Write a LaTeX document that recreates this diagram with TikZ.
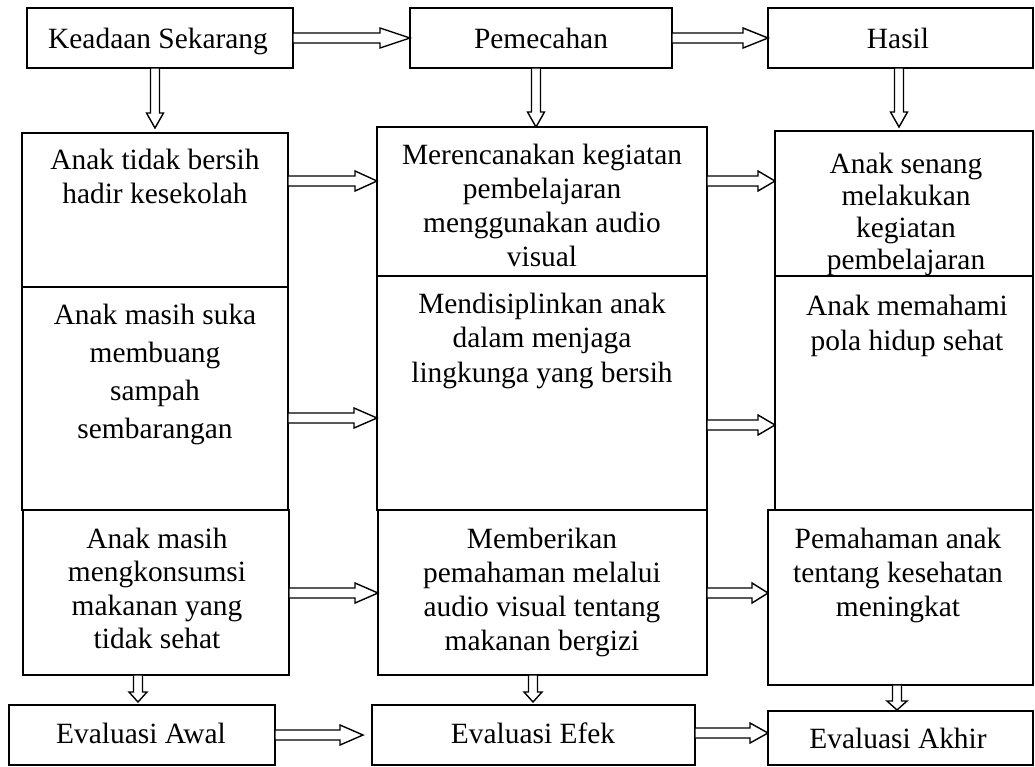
\documentclass[tikz,border=0pt]{standalone}
\usepackage{fontspec}
\setmainfont{Liberation Serif}
\usetikzlibrary{calc}
\newcommand{\lns}[2]{\vtop{\baselineskip=#1pt\lineskiplimit=-50pt\halign{\hfil##\hfil\cr#2\crcr}}}
% horizontal hollow arrow: start, end, head length
\newcommand{\myrarr}[3]{\draw[arr] let \p1=(#1), \p2=(#2) in
  (\x1,\y1+5pt) -- (\x2-#3pt,\y1+5pt) -- (\x2-#3pt,\y1+10pt) -- (\x2,\y1)
  -- (\x2-#3pt,\y1-10pt) -- (\x2-#3pt,\y1-5pt) -- (\x1,\y1-5pt) -- cycle;}
% vertical hollow arrow: start, end, head length, head half width
\newcommand{\mydarr}[4]{\draw[arr] let \p1=(#1), \p2=(#2) in
  (\x1-4.5pt,\y1) -- (\x1-4.5pt,\y2+#3pt) -- (\x1-#4pt,\y2+#3pt) -- (\x1,\y2)
  -- (\x1+#4pt,\y2+#3pt) -- (\x1+4.5pt,\y2+#3pt) -- (\x1+4.5pt,\y1) -- cycle;}
\begin{document}
\begin{tikzpicture}[x=1pt,y=-1pt,
  box/.style={draw,line width=1.6pt,inner sep=0pt,outer sep=0pt},
  txt/.style={inner sep=0pt,anchor=base,font=\fontsize{29.4}{34}\selectfont},
  arr/.style={draw,line width=1.4pt,fill=white,line join=miter}]
\useasboundingbox (0,0) rectangle (1035,766);
% boxes
\node[box,minimum width=266,minimum height=60] (ks) at (160,38) {};
\node[box,minimum width=262,minimum height=60] (pm) at (541,38) {};
\node[box,minimum width=265,minimum height=60] (hs) at (900.5,38) {};
\node[box,minimum width=266,minimum height=154] (L1) at (155,210) {};
\node[box,minimum width=266,minimum height=223] (L2) at (155,398.5) {};
\node[box,minimum width=266,minimum height=165] (L3) at (156,592.5) {};
\node[box,minimum width=266,minimum height=60] (ea) at (142,735) {};
\node[box,minimum width=330,minimum height=149] (M1) at (542,201.5) {};
\node[box,minimum width=330,minimum height=234] (M2) at (542,393) {};
\node[box,minimum width=329,minimum height=165] (M3) at (542.5,592.5) {};
\node[box,minimum width=323,minimum height=60] (ee) at (533.5,735) {};
\node[box,minimum width=258,minimum height=145] (R1) at (904,203.5) {};
\node[box,minimum width=258,minimum height=234] (R2) at (904,393) {};
\node[box,minimum width=265,minimum height=175] (R3) at (900.5,597.5) {};
\node[box,minimum width=265,minimum height=54] (ak) at (900.5,738) {};
% texts
\node[txt] (kst) at (158,48) {Keadaan Sekarang};
\node[txt] (pmt) at (541,48) {Pemecahan};
\node[txt] (hst) at (898,48) {Hasil};
\node[txt] (L1t) at (155,169) {\lns{34}{Anak tidak bersih\cr hadir kesekolah}};
\node[txt] (L2t) at (155,324) {\lns{38.3}{Anak masih suka\cr membuang\cr sampah\cr sembarangan}};
\node[txt] (L3t) at (157,548) {\lns{33.5}{Anak masih\cr mengkonsumsi\cr makanan yang\cr tidak sehat}};
\node[txt] (M1t) at (542,164) {\lns{34}{Merencanakan kegiatan\cr pembelajaran\cr menggunakan audio\cr visual}};
\node[txt] (M2t) at (542,313) {\lns{34.5}{Mendisiplinkan anak\cr dalam menjaga\cr lingkunga yang bersih}};
\node[txt] (M3t) at (542,548) {\lns{34}{Memberikan\cr pemahaman melalui\cr audio visual tentang\cr makanan bergizi}};
\node[txt] (R1t) at (906,173) {\lns{32}{Anak senang\cr melakukan\cr kegiatan\cr pembelajaran}};
\node[txt] (R2t) at (907,315) {\lns{35}{Anak memahami\cr pola hidup sehat}};
\node[txt] (R3t) at (898,548) {\lns{34}{Pemahaman anak\cr tentang kesehatan\cr meningkat}};
\node[txt] (eat) at (141,743) {Evaluasi Awal};
\node[txt] (eet) at (533,743) {Evaluasi Efek};
\node[txt] (akt) at (898,748) {Evaluasi Akhir};
% helper coordinates
\coordinate (r1) at (0,181);
\coordinate (r2) at (0,418);
\coordinate (r2b) at (0,425);
\coordinate (r3) at (0,593);
\coordinate (r4) at (0,735);
\coordinate (r4b) at (0,733);
\coordinate (c1) at (155,0);
\coordinate (c2) at (536,0);
\coordinate (c3) at (899,0);
\coordinate (c4) at (138,0);
\coordinate (c5) at (533,0);
\coordinate (c6) at (897,0);
% horizontal arrows
\myrarr{ks.east}{pm.west}{30}
\myrarr{pm.east}{hs.west}{25}
\myrarr{L1.east |- r1}{M1.west |- r1}{22}
\myrarr{L2.east |- r2}{M2.west |- r2}{23}
\myrarr{L3.east |- r3}{M3.west |- r3}{23}
\myrarr{M1.east |- r1}{R1.west |- r1}{17}
\myrarr{M2.east |- r2b}{R2.west |- r2b}{17}
\myrarr{M3.east |- r3}{R3.west |- r3}{16}
\myrarr{ea.east |- r4}{$(ee.west |- r4)+(-9,0)$}{23}
\myrarr{ee.east |- r4b}{ak.west |- r4b}{18}
% vertical arrows
\mydarr{ks.south -| c1}{$(L1.north -| c1)+(0,-5)$}{15}{8.5}
\mydarr{pm.south -| c2}{M1.north -| c2}{15}{8.5}
\mydarr{hs.south -| c3}{$(R1.north -| c3)+(0,-4)$}{15}{8.5}
\mydarr{L3.south -| c4}{$(ea.north -| c4)+(0,-3)$}{10}{9}
\mydarr{M3.south -| c5}{$(ee.north -| c5)+(0,-3)$}{10}{9}
\mydarr{R3.south -| c6}{$(ak.north -| c6)+(0,-1)$}{9}{10}
\end{tikzpicture}
\end{document}
